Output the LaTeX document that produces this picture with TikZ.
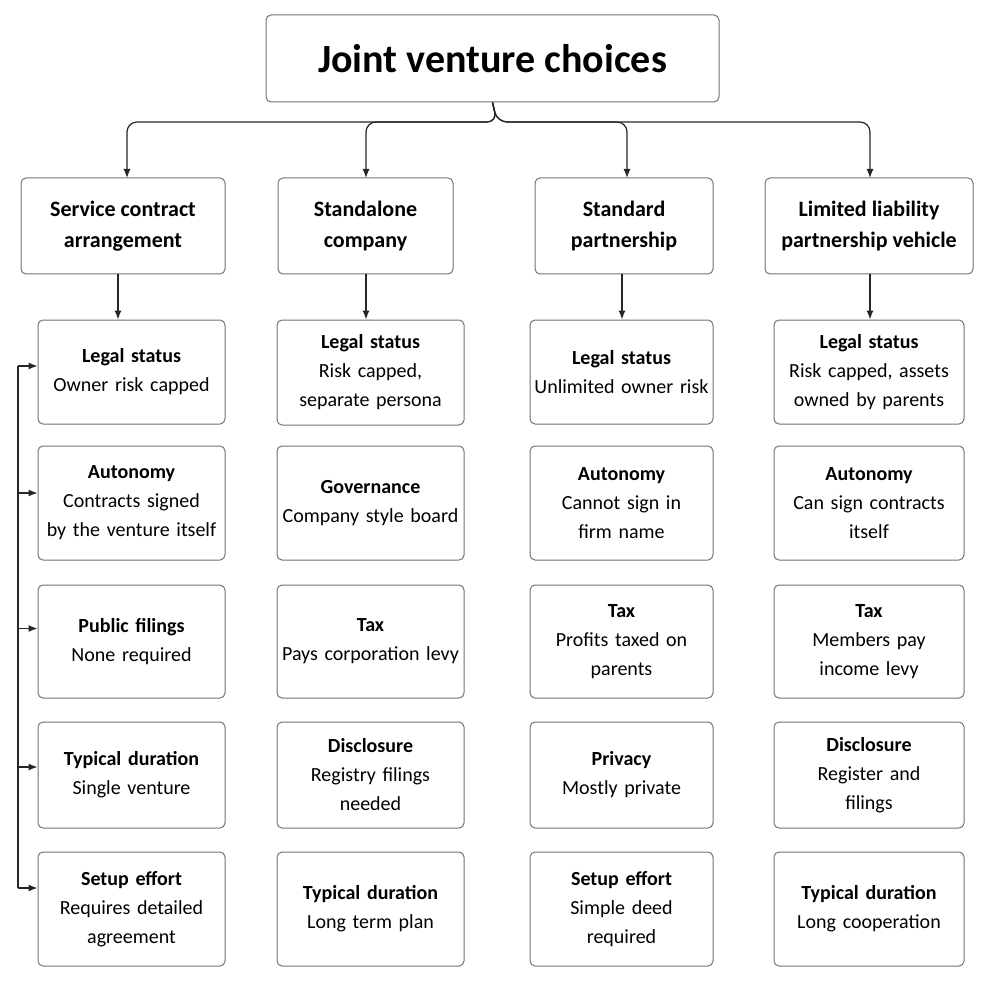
\documentclass[tikz,border=0pt]{standalone}
\usepackage{fontspec}
\setmainfont{Carlito}
\usetikzlibrary{positioning,arrows.meta}

\tikzset{
  box/.style={draw=black!55, line width=1pt, rounded corners=5pt, fill=white, align=center, inner sep=1pt},
  cat/.style={box, font=\fontsize{22}{31}\selectfont\bfseries},
  item/.style={box, font=\fontsize{20}{29}\selectfont},
  arr/.style={-{Latex[length=9pt,width=7pt]}, line width=1.2pt, black!85},
}
\newcommand{\itm}[2]{{\bfseries #1}\\#2}

\begin{document}
\begin{tikzpicture}[x=1pt,y=-1pt]
  \useasboundingbox (0,0) rectangle (990,984);

  % title
  \node [box, minimum width=453pt, minimum height=87pt, font=\fontsize{40}{44}\selectfont\bfseries]
        (title) at (492.5,58.5) {Joint venture choices};

  % options
  \node [cat, minimum width=204pt, minimum height=96pt] (c1) at (123,226) {Service contract\\arrangement};
  \node [cat, minimum width=175pt, minimum height=96pt] (c2) at (365.5,226) {Standalone\\company};
  \node [cat, minimum width=178pt, minimum height=96pt] (c3) at (624,226) {Standard\\partnership};
  \node [cat, minimum width=208pt, minimum height=96pt] (c4) at (869,226) {Limited liability\\partnership vehicle};

  \foreach \c/\x in {c1/127,c2/366,c3/627,c4/870}
    \draw [arr, rounded corners=10pt] (title.south) -- (497,122) -- (\x,122) -- (\x,178);

  % column 1
  \begin{scope}[every node/.style={item, minimum width=187pt, text width=185pt}]
    \node [minimum height=104pt] (a1) at (131.5,372) {\itm{Legal status}{Owner risk capped}};
    \node [minimum height=114pt] (a2) at (131.5,503) {\itm{Autonomy}{Contracts signed\\by the venture itself}};
    \node [minimum height=113pt] (a3) at (131.5,641.5) {\itm{Public filings}{None required}};
    \node [minimum height=106pt] (a4) at (131.5,775) {\itm{Typical duration}{Single venture}};
    \node [minimum height=114pt] (a5) at (131.5,909) {\itm{Setup effort}{Requires detailed\\agreement}};

    \node [minimum height=105pt] (b1) at (370.5,372.5) {\itm{Legal status}{Risk capped,\\separate persona}};
    \node [minimum height=114pt] (b2) at (370.5,503) {\itm{Governance}{Company style board}};
    \node [minimum height=113pt] (b3) at (370.5,641.5) {\itm{Tax}{Pays corporation levy}};
    \node [minimum height=106pt] (b4) at (370.5,775) {\itm{Disclosure}{Registry filings\\needed}};
    \node [minimum height=114pt] (b5) at (370.5,909) {\itm{Typical duration}{Long term plan}};
  \end{scope}
  \begin{scope}[every node/.style={item, minimum width=183pt, text width=181pt}]
    \node [minimum height=104pt] (p1) at (621.5,372) {\itm{Legal status}{Unlimited owner risk}};
    \node [minimum height=114pt] (p2) at (621.5,503) {\itm{Autonomy}{Cannot sign in\\firm name}};
    \node [minimum height=113pt] (p3) at (621.5,641.5) {\itm{Tax}{Profits taxed on\\parents}};
    \node [minimum height=106pt] (p4) at (621.5,775) {\itm{Privacy}{Mostly private}};
    \node [minimum height=114pt] (p5) at (621.5,909) {\itm{Setup effort}{Simple deed\\required}};
  \end{scope}
  \begin{scope}[every node/.style={item, minimum width=190pt, text width=188pt}]
    \node [minimum height=104pt] (l1) at (869,372) {\itm{Legal status}{Risk capped, assets\\owned by parents}};
    \node [minimum height=114pt] (l2) at (869,503) {\itm{Autonomy}{Can sign contracts\\itself}};
    \node [minimum height=113pt] (l3) at (869,641.5) {\itm{Tax}{Members pay\\income levy}};
    \node [minimum height=106pt] (l4) at (869,775) {\itm{Disclosure}{Register and\\filings}};
    \node [minimum height=114pt] (l5) at (869,909) {\itm{Typical duration}{Long cooperation}};
  \end{scope}

  % option to first detail
  \draw [arr] (c1.south -| 118,0) -- (a1.north -| 118,0);
  \draw [arr] (c2.south -| 366,0) -- (b1.north -| 366,0);
  \draw [arr] (c3.south -| 622,0) -- (p1.north -| 622,0);
  \draw [arr] (c4.south -| 870,0) -- (l1.north -| 870,0);

  % bracket on the left
  \coordinate (br) at (18,0);
  \draw [line width=1.2pt, black!85] ([yshift=6pt]br |- a1.west) -- ([yshift=21pt]br |- a5.west);
  \foreach \n/\d in {a1/6,a2/10,a3/13,a4/8,a5/21}
    \draw [arr] ([yshift=\d pt]br |- \n.west) -- ([yshift=\d pt]\n.west);
\end{tikzpicture}
\end{document}
